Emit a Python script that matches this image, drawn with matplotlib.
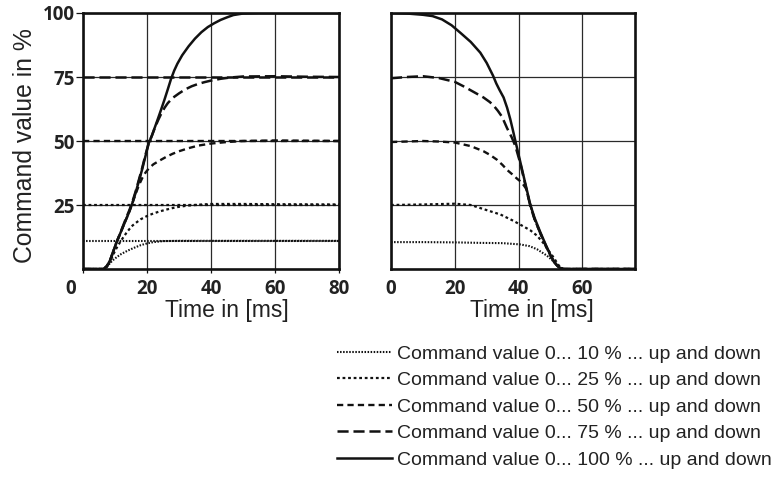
import matplotlib
matplotlib.use("Agg")
import matplotlib.pyplot as plt
from matplotlib.lines import Line2D
from matplotlib.transforms import ScaledTranslation

plt.rcParams['lines.scale_dashes'] = False

# ---------------- data: rising (command value up) ----------------
t_up_100 = [0, 6.5, 7.5, 8.5, 9.5, 10.5, 11.5, 12.5, 13.5, 14.5, 15.5, 16.5, 17.5, 18.5, 19.5, 20.5,
            21.5, 22.5, 23.5, 24.5, 25.5, 26.5, 27.5, 28.5, 29.5, 31, 33, 35, 37, 39, 41, 43, 45, 47, 50, 55, 80]
v_up_100 = [0, 0, 1.2, 3.5, 7, 10.5, 13.5, 16.5, 19.5, 22.5, 26, 30, 34.5, 39, 44, 49,
            52, 55.5, 59, 62.6, 66.3, 70.2, 74.2, 77.5, 80.2, 83.5, 87, 90, 92.5, 94.5, 96, 97.3, 98.3, 99.2, 99.8, 100, 100]

t_up_75 = [0, 6.5, 7.5, 8.5, 9.5, 10.5, 11.5, 12.5, 13.5, 14.5, 15.5, 16.5, 17.5, 18.5, 19.5, 20.5,
           21.5, 22.5, 23.5, 24.5, 25.5, 26.5, 28, 30, 32, 34, 36, 38, 40, 43, 46, 50, 60, 70, 80]
v_up_75 = [0, 0, 1.2, 3.5, 7, 10.5, 13.5, 16.8, 20, 23, 26.5, 30.5, 35, 39.5, 44.5, 49,
           52, 55.3, 58.2, 60.8, 63, 64.8, 66.8, 68.6, 70.2, 71.4, 72.3, 73, 73.6, 74.3, 74.8, 75.2, 75.3, 75.1, 75]

t_up_50 = [0, 6.5, 7.5, 8.5, 9.5, 10.5, 11.5, 12.5, 13.5, 14.5, 15.5, 16.5, 17.5, 18.5, 19.5, 20.5,
           22, 24, 26, 28, 30, 33, 36, 40, 45, 50, 60, 80]
v_up_50 = [0, 0, 1.2, 3.5, 7, 10.5, 13.5, 16.5, 19.5, 22.5, 26, 29.5, 32.8, 35.5, 37.6, 39.2,
           40.9, 42.4, 43.8, 45, 46, 47.2, 48.2, 49, 49.6, 50, 50.2, 50]

t_up_25 = [0, 6.5, 7.5, 8.5, 9.5, 10.5, 11.5, 12.5, 13.5, 14.5, 15.5, 16.5, 18, 20, 22, 24, 26, 28,
           30, 33, 36, 40, 50, 60, 80]
v_up_25 = [0, 0, 1, 3, 5.8, 8.2, 10.3, 12.2, 14, 15.6, 17, 18, 19.4, 20.7, 21.7, 22.5, 23.2, 23.8,
           24.3, 24.8, 25.1, 25.4, 25.4, 25.3, 25.2]

t_up_10 = [0, 6.5, 7.5, 8.5, 9.5, 10.5, 12, 14, 16, 18, 20, 22, 25, 30, 80]
v_up_10 = [0, 0, 0.8, 2.4, 3.6, 4.6, 5.9, 7.2, 8.3, 9.3, 10.0, 10.5, 10.9, 11, 11]

setpoints_up = [11, 25, 50, 75]

# ---------------- data: falling (command value down) ----------------
t_dn_100 = [0, 5, 10, 13, 16, 19, 22, 25, 28, 30, 32, 33, 34, 35.3, 36.4, 37.4, 38.2, 39, 40.5, 42,
            43.7, 45, 46.8, 48.5, 49.9, 51, 52.5, 54, 76.5]
v_dn_100 = [100, 99.8, 99.3, 98.8, 97.5, 95.2, 92, 88.7, 84.5, 80.5, 75.5, 72.5, 70, 67, 63, 58.5, 54.3, 50, 42, 34,
            25, 20, 14.4, 9.5, 5.7, 3.2, 0.7, 0, 0]

t_dn_75 = [0, 5, 10, 15, 20, 23, 25, 27, 29, 31, 32.2, 33.5, 34.8, 36.4, 37.9, 39, 40.5, 42, 43.7, 45,
           46.8, 48.5, 49.9, 51, 52.5, 54, 76.5]
v_dn_75 = [74.5, 75, 75.3, 74.6, 73.1, 71.2, 69.8, 68.4, 67, 65.2, 63.8, 61.8, 59.5, 55, 51.3, 48, 41.5, 33.5, 24.5, 19.5,
           14, 9.2, 5.5, 3, 0.6, 0, 0]

t_dn_50 = [0, 5, 10, 15, 20, 25, 29, 31, 33.2, 35, 36.4, 38, 39.5, 41, 42.3, 43.7, 45, 46.8, 48.5, 49.9,
           51, 52.5, 54, 76.5]
v_dn_50 = [49.6, 49.8, 50, 49.8, 49.4, 48, 46, 44.6, 42.7, 40.6, 38.7, 37, 35.3, 33.8, 31.5, 25, 19.5, 14, 9.2, 5.5,
           3, 0.6, 0, 0]

t_dn_25 = [0, 10, 20, 25, 28, 31, 34.3, 38.4, 41, 43.7, 45.8, 47.8, 49.5, 51, 52, 53, 54, 76.5]
v_dn_25 = [25, 25.2, 25.5, 25, 23.8, 22.6, 21.3, 18.8, 17, 15.1, 13, 10.1, 7, 4.5, 2.5, 0.7, 0, 0]

t_dn_10 = [0, 10, 20, 28, 35, 40.5, 43.5, 45.8, 48.9, 50.5, 52, 53, 54, 76.5]
v_dn_10 = [10.5, 10.5, 10.4, 10.2, 10.1, 9.6, 8.9, 7.7, 5.2, 3.5, 1.5, 0.5, 0, 0]

x_ticks_up = [0, 20, 40, 60, 80]
x_ticks_dn = [0, 20, 40, 60]
y_ticks = [25, 50, 75, 100]
legend_labels = ["Command value 0... 10 % ... up and down",
                 "Command value 0... 25 % ... up and down",
                 "Command value 0... 50 % ... up and down",
                 "Command value 0... 75 % ... up and down",
                 "Command value 0... 100 % ... up and down"]

# ---------------- styles ----------------
INK = '#111111'
styles = {
    10: dict(lw=1.5, linestyle=(0, (1.1, 1.1))),
    25: dict(lw=1.6, linestyle=(0, (2.0, 2.0))),
    50: dict(lw=1.7, linestyle=(0, (4.5, 3.0))),
    75: dict(lw=1.8, linestyle=(0, (8.0, 3.5))),
    100: dict(lw=1.8, linestyle='-'),
}

W, H = 773, 490
fig = plt.figure(figsize=(W / 100, H / 100), dpi=100)
ax1 = fig.add_axes([83 / W, 1 - 269 / H, 256 / W, 256 / H])
ax2 = fig.add_axes([391 / W, 1 - 269 / H, 244 / W, 256 / H])

tick_font = dict(family='Open Sans', weight='bold', size=13.5)
label_font = dict(family='Liberation Sans', size=16.5)

for ax in (ax1, ax2):
    ax.set_ylim(0, 100)
    ax.set_yticks(y_ticks)
    ax.grid(True, color='#2a2a2a', lw=0.9)
    ax.set_axisbelow(True)
    for sp in ax.spines.values():
        sp.set_linewidth(1.9)
        sp.set_color(INK)
    ax.set_xlabel('Time in [ms]', color='#222222', va='center', **label_font)

ax1.set_xlim(0, 80)
ax1.set_xticks(x_ticks_up)
ax2.set_xlim(0, 76.5)
ax2.set_xticks(x_ticks_dn)

ax1.tick_params(axis='y', length=5, width=0.9, pad=1, color=INK)
ax1.tick_params(axis='x', length=3, width=0.9, pad=4, color=INK)
ax2.tick_params(axis='y', length=0, labelleft=False)
ax2.tick_params(axis='x', length=0, pad=7)
for ax in (ax1, ax2):
    for lab in ax.get_xticklabels() + ax.get_yticklabels():
        lab.set_fontfamily(tick_font['family'])
        lab.set_fontweight(tick_font['weight'])
        lab.set_fontsize(tick_font['size'])
        lab.set_color('#222222')

# shift the "0" label of the left panel a bit to the left
zero_lab = ax1.get_xticklabels()[0]
zero_lab.set_transform(zero_lab.get_transform() + ScaledTranslation(-12 / 100, 0, fig.dpi_scale_trans))

ax1.xaxis.set_label_coords((226.5 - 83) / 256, (269 - 310) / 256)
ax2.xaxis.set_label_coords((532 - 391) / 244, (269 - 310) / 256)
ax1.set_ylabel('Command value in %', color='#222222', va='center',
               family='Liberation Sans', size=17.8)
ax1.yaxis.set_label_coords((25 - 83) / 256, (269 - 146) / 256)

# ---------------- curves ----------------
up = {10: (t_up_10, v_up_10), 25: (t_up_25, v_up_25), 50: (t_up_50, v_up_50),
      75: (t_up_75, v_up_75), 100: (t_up_100, v_up_100)}
dn = {10: (t_dn_10, v_dn_10), 25: (t_dn_25, v_dn_25), 50: (t_dn_50, v_dn_50),
      75: (t_dn_75, v_dn_75), 100: (t_dn_100, v_dn_100)}

for key, sp in zip([10, 25, 50, 75], setpoints_up):
    ax1.hlines(sp, t_up_100[0], t_up_100[-1], color=INK, zorder=3, **styles[key])

handles = []
for key in [10, 25, 50, 75, 100]:
    t, v = up[key]
    ax1.plot(t, v, color=INK, zorder=4, solid_capstyle='butt', **styles[key])
    t, v = dn[key]
    ax2.plot(t, v, color=INK, zorder=4, solid_capstyle='butt', **styles[key])
    handles.append(Line2D([], [], color=INK, **styles[key]))

fig.legend(handles, legend_labels, loc='upper left', bbox_to_anchor=(337 / W, 1 - 345 / H),
           frameon=False, borderpad=0, borderaxespad=0, handlelength=2.85, handletextpad=0.25,
           labelspacing=0.46, prop=dict(family='Liberation Sans', size=14), labelcolor='#222222')

fig.savefig('out.png', dpi=100)
